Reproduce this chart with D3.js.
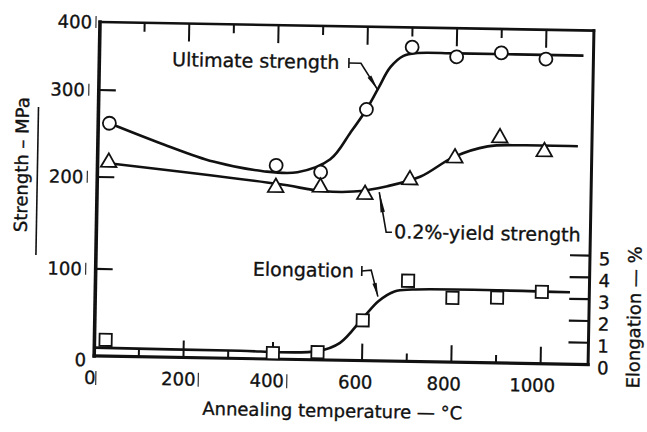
<!DOCTYPE html>
<html>
<head>
<meta charset="utf-8">
<script src="https://cdn.jsdelivr.net/npm/d3@7"></script>
<style>
  body { margin: 0; background: #fff; }
  svg { display: block; }
  text { font-family: "DejaVu Sans", sans-serif; fill: #111; stroke: #111; stroke-width: 0.35px; }
</style>
</head>
<body>
<svg id="chart" width="647" height="432"></svg>
<script>
// Measured properties after annealing
const temperatures     = [25, 400, 500, 600, 700, 800, 900, 1000];        // °C
const ultimateStrength = [262, 217, 210, 283, 371, 358, 365, 357];        // MPa
const yieldStrength    = [217, 192, 193, 186, 203, 229, 253, 238];        // MPa
const elongation       = [0.75, 0.27, 0.35, 1.85, 3.7, 2.95, 3.0, 3.3];   // %

// Hand-fitted trend curves: knot temperatures and values
const ultimateFitT = [25, 146, 259, 371, 448, 521, 565, 600, 626, 652, 681, 712, 800, 1084];
const ultimateFitV = [262, 239, 220, 210, 209.5, 225, 256, 283, 310, 341, 358, 362.5, 363, 363];
const yieldFitT    = [25, 403, 504, 574, 650, 724, 797, 873, 950, 1075];
const yieldFitV    = [216, 196, 189, 189, 195.5, 207, 230, 243, 245, 245];
const elongFitT    = [0, 300, 500, 550, 600, 635, 670, 710, 1063];
const elongFitV    = [0.38, 0.36, 0.4, 0.8, 1.95, 2.75, 3.2, 3.3, 3.3];

// Axis ticks
const temperatureLabels = [0, 200, 400, 600, 800, 1000];
const temperatureTicks  = [100, 200, 300, 400, 500, 600, 700, 800, 900, 1000];
const strengthLabels    = [0, 100, 200, 300, 400];
const strengthTicks     = [100, 200, 300];
const elongationLabels  = [0, 1, 2, 3, 4, 5];
const elongationTicks   = [1, 2, 3, 4, 5];

// Curve call-outs, anchored in data units
const callouts = [
  { text: "Ultimate strength",   axis: "S", textAt: [163, 337], bar: [559, 346], bend: [586, 346], tip: [625, 307] },
  { text: "Elongation",          axis: "E", textAt: [352, 3.81], bar: [596, 4.11], bend: [617, 4.16], tip: [633, 2.95] }
];
const yieldCallout = { text: "0.2%-yield strength", textAt: [667, 139], tip: [632, 189], corner: [649, 145.5], end: [662, 145.5] };

const W = 494, H = 334;
const svg = d3.select("#chart");
const g = svg.append("g").attr("transform", "translate(100,22) rotate(1)");

const x  = d3.scaleLinear().domain([0, 1000]).range([0, 446.5]);
const yS = d3.scaleLinear().domain([0, 100, 200, 300, 400]).range([H, 247, 155, 68, 0]);
const yE = d3.scaleLinear().domain([0, 5]).range([H, 225]);

// Frame
const frame = [
  { x1: 0, y1: 0, x2: 0, y2: H, w: 3.6 },
  { x1: 0, y1: H, x2: W, y2: H, w: 3.2 },
  { x1: 0, y1: 0, x2: W, y2: 0, w: 2.6 },
  { x1: W, y1: 0, x2: W, y2: H, w: 3.0 }
];
g.selectAll("line.frame").data(frame).join("line")
  .attr("x1", d => d.x1).attr("y1", d => d.y1).attr("x2", d => d.x2).attr("y2", d => d.y2)
  .attr("stroke", "#111").attr("stroke-width", d => d.w).attr("stroke-linecap", "square");

// Temperature ticks on bottom and top edges, longer at every 200 °C
const tickLen = t => (t % 200 === 0 ? 17 : 8);
g.selectAll("line.tb").data(temperatureTicks).join("line")
  .attr("x1", d => x(d)).attr("x2", d => x(d)).attr("y1", H).attr("y2", d => H - tickLen(d))
  .attr("stroke", "#111").attr("stroke-width", 2);
g.selectAll("line.tt").data(temperatureTicks).join("line")
  .attr("x1", d => x(d)).attr("x2", d => x(d)).attr("y1", 0).attr("y2", d => tickLen(d) + 1)
  .attr("stroke", "#111").attr("stroke-width", 2);

// Strength ticks (left) and elongation ticks (right)
g.selectAll("line.tl").data(strengthTicks).join("line")
  .attr("x1", 0).attr("x2", 17).attr("y1", d => yS(d)).attr("y2", d => yS(d))
  .attr("stroke", "#111").attr("stroke-width", 2.2);
g.selectAll("line.tr").data(elongationTicks).join("line")
  .attr("x1", W).attr("x2", W - 20).attr("y1", d => yE(d)).attr("y2", d => yE(d))
  .attr("stroke", "#111").attr("stroke-width", 2.2);

// Tick labels
g.selectAll("text.xl").data(temperatureLabels).join("text")
  .attr("x", d => x(d) - 4 - d * 0.004).attr("y", 362).attr("text-anchor", "middle")
  .attr("font-size", 18).text(d => d);
const yLabelEnd = d => (d === 0 || d === 400 ? -8 : -14);
g.selectAll("text.yl").data(strengthLabels).join("text")
  .attr("x", d => yLabelEnd(d)).attr("y", d => yS(d) + (d === 0 ? 4 : 0))
  .attr("dy", "0.36em").attr("text-anchor", "end")
  .attr("font-size", 18).text(d => d);
g.selectAll("text.el").data(elongationLabels).join("text")
  .attr("x", W + 9).attr("y", d => yE(d) + 3).attr("dy", "0.36em")
  .attr("font-size", 18).text(d => d);

// Small printed stubs beside some tick labels
g.selectAll("line.ys").data([100, 200, 300, 400]).join("line")
  .attr("x1", d => yLabelEnd(d) + 4).attr("x2", d => yLabelEnd(d) + 4)
  .attr("y1", d => yS(d) - 6).attr("y2", d => yS(d) + 6)
  .attr("stroke", "#333").attr("stroke-width", 1.2);
const xStubOffset = { 0: 6, 200: 20, 400: 20 };
g.selectAll("line.xs").data([0, 200, 400]).join("line")
  .attr("x1", d => x(d) - 4 - d * 0.004 + xStubOffset[d]).attr("x2", d => x(d) - 4 - d * 0.004 + xStubOffset[d])
  .attr("y1", 349).attr("y2", 363)
  .attr("stroke", "#333").attr("stroke-width", 1.2);

// Axis titles
g.append("text").attr("x", 239).attr("y", 391).attr("text-anchor", "middle")
  .attr("font-size", 18).text("Annealing temperature — °C");
g.append("text").attr("transform", "translate(-76,144) rotate(-90)")
  .attr("text-anchor", "middle").attr("dy", "0.36em")
  .attr("font-size", 18).text("Strength – MPa");
g.append("line").attr("x1", -60).attr("x2", -60).attr("y1", 86).attr("y2", 234)
  .attr("stroke", "#111").attr("stroke-width", 1.6);
g.append("text").attr("transform", "translate(539,286) rotate(-90)")
  .attr("text-anchor", "middle").attr("dy", "0.36em")
  .attr("font-size", 18).text("Elongation — %");

// Trend curves
const curve = d3.curveCatmullRom.alpha(0.5);
const lineS = d3.line().x(d => x(d[0])).y(d => yS(d[1])).curve(curve);
const lineE = d3.line().x(d => x(d[0])).y(d => yE(d[1])).curve(curve);
const curveStyle = sel => sel.attr("fill", "none").attr("stroke", "#111").attr("stroke-width", 2.6);
g.append("path").attr("d", lineS(d3.zip(ultimateFitT, ultimateFitV))).call(curveStyle);
g.append("path").attr("d", lineS(d3.zip(yieldFitT, yieldFitV))).call(curveStyle);
g.append("path").attr("d", lineE(d3.zip(elongFitT, elongFitV))).call(curveStyle);

// Call-outs
const pos = (axis, p) => [x(p[0]), axis === "E" ? yE(p[1]) : yS(p[1])];
function wedge(from, to) {
  // narrow filled head along the last part of a leader
  const dx = to[0] - from[0], dy = to[1] - from[1];
  const len = Math.hypot(dx, dy), ux = dx / len, uy = dy / len;
  const bx = to[0] - ux * len * 0.5, by = to[1] - uy * len * 0.5;
  const hw = 2.2;
  return `M${to[0]},${to[1]}L${bx - uy * hw},${by + ux * hw}L${bx + uy * hw},${by - ux * hw}Z`;
}
callouts.forEach(c => {
  const t = pos(c.axis, c.textAt), b = pos(c.axis, c.bar), k = pos(c.axis, c.bend), p = pos(c.axis, c.tip);
  g.append("text").attr("x", t[0]).attr("y", t[1]).attr("font-size", 19).text(c.text);
  g.append("line").attr("x1", b[0]).attr("x2", b[0]).attr("y1", b[1] - 5).attr("y2", b[1] + 5)
    .attr("stroke", "#111").attr("stroke-width", 1.6);
  g.append("path").attr("d", `M${b[0]},${b[1]}L${k[0]},${k[1]}L${p[0]},${p[1]}`)
    .attr("fill", "none").attr("stroke", "#111").attr("stroke-width", 1.6);
  g.append("path").attr("d", wedge(k, p)).attr("fill", "#111");
});
{
  const c = yieldCallout;
  const t = pos("S", c.textAt), p = pos("S", c.tip), k = pos("S", c.corner), e = pos("S", c.end);
  g.append("text").attr("x", t[0]).attr("y", t[1]).attr("font-size", 19).text(c.text);
  g.append("path").attr("d", `M${p[0]},${p[1]}L${k[0]},${k[1]}L${e[0]},${e[1]}`)
    .attr("fill", "none").attr("stroke", "#111").attr("stroke-width", 1.6);
  g.append("path").attr("d", wedge(k, p)).attr("fill", "#111");
}

// Data markers
const markerStyle = sel => sel.attr("fill", "#fff").attr("stroke", "#111").attr("stroke-width", 1.8);
g.selectAll("circle.u").data(d3.zip(temperatures, ultimateStrength)).join("circle")
  .attr("cx", d => x(d[0])).attr("cy", d => yS(d[1])).attr("r", 6.5).call(markerStyle);
g.selectAll("path.y").data(d3.zip(temperatures, yieldStrength)).join("path")
  .attr("transform", d => `translate(${x(d[0])},${yS(d[1])})`)
  .attr("d", d3.symbol(d3.symbolTriangle, 105)).call(markerStyle);
g.selectAll("path.e").data(d3.zip(temperatures, elongation)).join("path")
  .attr("transform", d => `translate(${x(d[0])},${yE(d[1])})`)
  .attr("d", d3.symbol(d3.symbolSquare, 150)).call(markerStyle);
</script>
</body>
</html>
